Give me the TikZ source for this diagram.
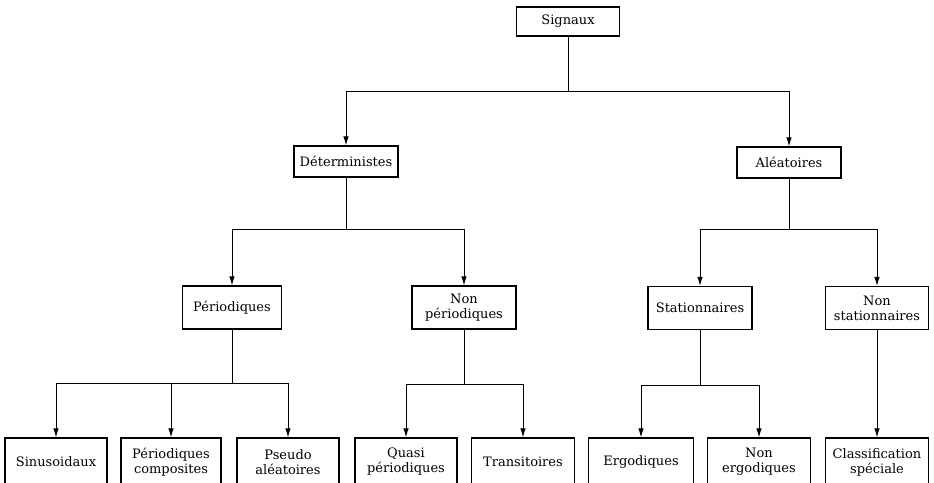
\documentclass[tikz,border=0pt]{standalone}
\usepackage{fontspec}
\setmainfont{DejaVu Serif}
\usetikzlibrary{arrows.meta}
\begin{document}
\begin{tikzpicture}[x=1pt,y=-1pt,
  box/.style={draw, line width=1.3pt, minimum height=29pt, inner sep=1pt, align=center,
    font=\fontsize{13}{15}\selectfont},
  lvltwo/.style={box, minimum height=43pt},
  lvlthree/.style={box, minimum height=48pt},
  conn/.style={line width=0.8pt},
  arr/.style={line width=0.9pt, -{Latex[length=9pt,width=5.5pt]}}]
\useasboundingbox (0,0) rectangle (934,482);
\clip (0,0) rectangle (934,482);
% level 0
\node[box, minimum width=103pt] (sig) at (568,21.5) {Signaux};
% level 1
\node[box, minimum width=104pt, minimum height=31pt] (det) at (346,161.5) {Déterministes};
\node[box, minimum width=104pt, minimum height=31pt] (ale) at (789,162.5) {Aléatoires};
% level 2
\node[lvltwo, minimum width=99pt] (per) at (232,307.5) {Périodiques};
\node[lvltwo, minimum width=104pt] (nper) at (464,307.5) {Non\\périodiques};
\node[lvltwo, minimum width=104pt] (sta) at (700,308) {Stationnaires};
\node[lvltwo, minimum width=103pt] (nsta) at (877,308) {Non\\stationnaires};
% level 3
\node[lvlthree, minimum width=102pt] (sin) at (56,462) {Sinusoidaux};
\node[lvlthree, minimum width=100pt] (pcomp) at (171,462) {Périodiques\\composites};
\node[lvlthree, minimum width=102pt] (pseudo) at (288,462) {Pseudo\\aléatoires};
\node[lvlthree, minimum width=102pt] (quasi) at (406,462) {Quasi\\périodiques};
\node[lvlthree, minimum width=103pt] (trans) at (523,462) {Transitoires};
\node[lvlthree, minimum width=105pt] (ergo) at (641,462) {Ergodiques};
\node[lvlthree, minimum width=103pt] (nergo) at (759,462) {Non\\ergodiques};
\node[lvlthree, minimum width=103pt] (classif) at (877,462) {Classification\\spéciale};
% junctions
\coordinate (j0) at (568,91);
\coordinate (j1) at (346,229);
\coordinate (j2) at (789,229);
\coordinate (j3) at (232,383);
\coordinate (j4) at (464,384);
\coordinate (j5) at (700,385);
% connectors
\draw[conn] (sig) -- (j0);
\draw[arr] (j0) -| (det);
\draw[arr] (j0) -| (ale);
\draw[conn] (det) -- (j1);
\draw[arr] (j1) -| (per);
\draw[arr] (j1) -| (nper);
\draw[conn] (ale) -- (j2);
\draw[arr] (j2) -| (sta);
\draw[arr] (j2) -| (nsta);
\draw[conn] (per) -- (j3);
\draw[arr] (j3) -| (sin);
\draw[arr] (j3) -| (pcomp);
\draw[arr] (j3) -| (pseudo);
\draw[conn] (nper) -- (j4);
\draw[arr] (j4) -| (quasi);
\draw[arr] (j4) -| (trans);
\draw[conn] (sta) -- (j5);
\draw[arr] (j5) -| (ergo);
\draw[arr] (j5) -| (nergo);
\draw[arr] (nsta) -- (classif);
\end{tikzpicture}
\end{document}
